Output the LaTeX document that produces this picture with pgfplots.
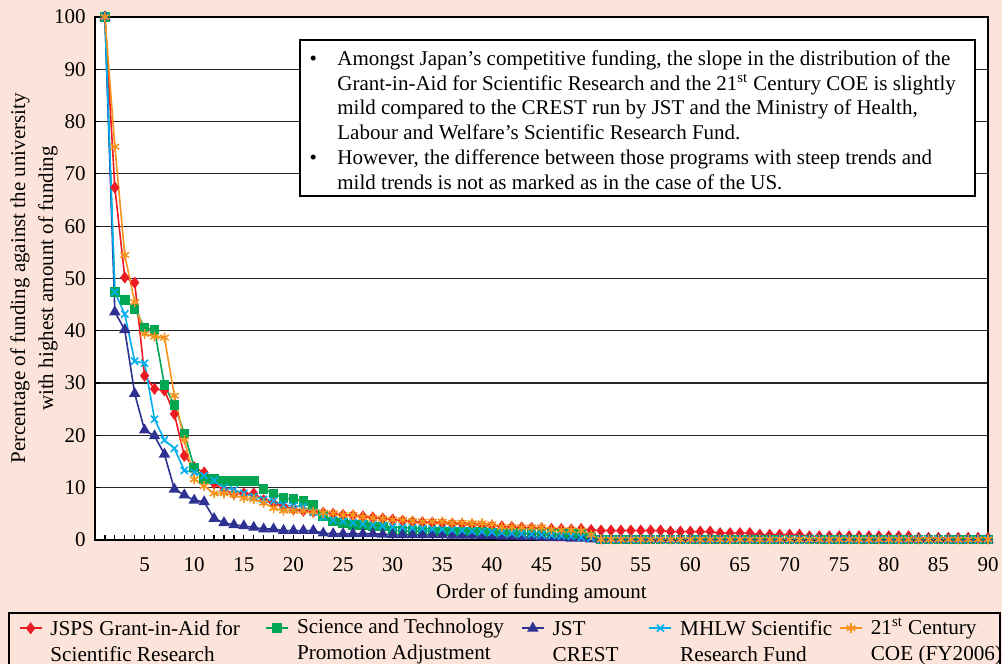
\documentclass[border=0pt]{standalone}
\usepackage{fontspec}
\setmainfont{Liberation Serif}
\usepackage{pgfplots}
\usepackage{pgfplotstable}
\pgfplotsset{compat=1.18}

\definecolor{bgpeach}{HTML}{FCE4DA}
\definecolor{cjsps}{HTML}{ED1C24}
\definecolor{cstpa}{HTML}{00A651}
\definecolor{ccrest}{HTML}{2E3192}
\definecolor{cmhlw}{HTML}{00AEEF}
\definecolor{ccoe}{HTML}{F7941D}

% share of funding vs. top university, by rank (1 = top)
\pgfplotstableread{
x jsps stpa crest mhlw coe
1 100 100 100 100 100
2 67.4 47.4 43.6 47.4 75.2
3 50.2 45.9 40.2 43.2 54.5
4 49.2 44.2 28.0 34.2 45.5
5 31.4 40.6 21.0 33.8 39.4
6 28.9 40.2 19.9 23.1 38.9
7 28.6 29.6 16.4 19.1 38.7
8 24.1 25.8 9.7 17.5 27.6
9 16.1 20.4 8.6 13.3 19.1
10 13.9 13.9 7.6 12.9 11.6
11 12.9 11.7 7.3 12.3 10.3
12 10.8 11.7 4.1 11.4 8.9
13 9.5 11.3 3.3 10.0 8.9
14 8.9 11.3 2.9 9.6 8.6
15 8.9 11.3 2.7 8.9 8.0
16 8.9 11.3 2.4 8.3 7.8
17 7.6 9.7 2.1 7.8 7.1
18 7.0 8.9 2.1 7.5 6.1
19 6.5 8.0 1.8 6.7 5.6
20 5.9 7.8 1.8 6.5 5.6
21 5.6 7.5 1.8 6.4 5.6
22 5.4 6.7 1.8 5.3 5.4
23 5.2 4.6 1.3 4.4 5.2
24 5.0 3.5 1.2 3.8 5.1
25 4.8 3.3 1.2 3.6 4.8
26 4.7 2.9 1.2 3.3 4.8
27 4.5 2.9 1.2 3.1 4.4
28 4.3 2.6 1.2 2.9 4.2
29 4.1 2.6 1.1 2.7 4.1
30 3.9 1.8 1.0 2.5 3.9
31 3.7 1.8 1.0 2.4 3.8
32 3.5 1.7 1.0 2.3 3.6
33 3.4 1.7 1.0 2.2 3.5
34 3.3 1.6 1.0 2.1 3.5
35 3.2 1.6 1.0 2.0 3.5
36 3.1 1.6 0.9 1.9 3.3
37 3.0 1.5 0.9 1.8 3.3
38 2.9 1.5 0.9 1.7 3.2
39 2.8 1.5 0.8 1.6 3.2
40 2.7 1.4 0.8 1.5 3.0
41 2.6 1.4 0.7 1.4 2.5
42 2.5 1.4 0.7 1.3 2.5
43 2.4 1.3 0.6 1.2 2.4
44 2.3 1.3 0.6 1.1 2.4
45 2.2 1.3 0.5 1.0 2.4
46 2.1 1.2 0.4 0.9 2.0
47 2.1 1.2 0.4 0.8 1.9
48 2.0 1.2 0.3 0.7 1.9
49 2.1 1.1 0.3 0.5 1.8
50 1.9 0.6 0.2 0.4 1.0
51 1.8 0.1 0.1 0.1 0.1
52 1.8 0.1 0.1 0.1 0.1
53 1.8 0.1 0.1 0.1 0.1
54 1.8 0.1 0.1 0.1 0.1
55 1.8 0.1 0.1 0.1 0.1
56 1.8 0.1 0.1 0.1 0.1
57 1.8 0.1 0.1 0.1 0.1
58 1.6 0.1 0.1 0.1 0.1
59 1.6 0.1 0.1 0.1 0.1
60 1.6 0.1 0.1 0.1 0.1
61 1.6 0.1 0.1 0.1 0.1
62 1.6 0.1 0.1 0.1 0.1
63 1.3 0.1 0.1 0.1 0.1
64 1.3 0.1 0.1 0.1 0.1
65 1.3 0.1 0.1 0.1 0.1
66 1.3 0.1 0.1 0.1 0.1
67 1.0 0.1 0.1 0.1 0.1
68 1.0 0.1 0.1 0.1 0.1
69 1.0 0.1 0.1 0.1 0.1
70 1.0 0.1 0.1 0.1 0.1
71 1.0 0.1 0.1 0.1 0.1
72 0.7 0.1 0.1 0.1 0.1
73 0.7 0.1 0.1 0.1 0.1
74 0.7 0.1 0.1 0.1 0.1
75 0.7 0.1 0.1 0.1 0.1
76 0.7 0.1 0.1 0.1 0.1
77 0.7 0.1 0.1 0.1 0.1
78 0.7 0.1 0.1 0.1 0.1
79 0.7 0.1 0.1 0.1 0.1
80 0.7 0.1 0.1 0.1 0.1
81 0.7 0.1 0.1 0.1 0.1
82 0.7 0.1 0.1 0.1 0.1
83 0.4 0.1 0.1 0.1 0.1
84 0.4 0.1 0.1 0.1 0.1
85 0.4 0.1 0.1 0.1 0.1
86 0.4 0.1 0.1 0.1 0.1
87 0.4 0.1 0.1 0.1 0.1
88 0.4 0.1 0.1 0.1 0.1
89 0.4 0.1 0.1 0.1 0.1
90 0.4 0.1 0.1 0.1 0.1
}\fundtab

\begin{document}
\begin{tikzpicture}
\fill[bgpeach] (0,0) rectangle (501pt,332pt);
\useasboundingbox (0,0) rectangle (501pt,332pt);
\begin{axis}[
  at={(47.5pt,62pt)}, anchor=south west,
  scale only axis, width=446.5pt, height=261.5pt,
  xmin=0, xmax=90, ymin=0, ymax=100,
  xtick={5,10,...,90}, minor xtick={1,...,89},
  ytick={0,10,...,100},
  xtick pos=bottom, ytick pos=left,
  tick align=inside,
  major tick length=2.5pt, minor tick length=2.5pt,
  tick style={black, line width=0.6pt},
  ymajorgrids,
  major grid style={black!85, line width=0.6pt},
  axis line style={black, line width=0.8pt},
  axis background/.style={fill=white},
  /pgf/number format/assume math mode=true,
  ticklabel style={font=\fontsize{10.5}{12}\selectfont},
  xticklabel style={anchor=base, yshift=-16pt},
  yticklabel style={xshift=-1.2pt},
  xlabel={Order of funding amount},
  xlabel style={at={(axis description cs:0.5,0)}, anchor=base, yshift=-29.5pt,
    font=\fontsize{10.5}{12}\selectfont},
  ylabel={Percentage of funding against the university\\with highest amount of funding},
  ylabel style={at={(axis description cs:-0.0683,0.5)}, anchor=center,
    align=center, font=\fontsize{10.5}{14}\selectfont},
  every axis plot/.append style={line width=0.8pt},
  legend image code/.code={\draw[mark repeat=2, mark phase=2, #1]
    plot coordinates {(0pt,6.5pt) (5.5pt,6.5pt) (11pt,6.5pt)};},
  legend columns=5,
  legend style={at={(-0.0974,-0.1377)}, anchor=north west,
    draw=black, line width=0.8pt, fill=none,
    inner xsep=5pt, inner ysep=2.5pt,
    nodes={inner sep=0pt, anchor=center, text depth=},
    font=\fontsize{10.6}{13}\selectfont,
    column sep=0pt,
    /tikz/every odd column/.append style={column sep=4pt}},
]
\addplot[cjsps, mark=diamond*, mark size=2.4pt] table[x=x, y=jsps] {\fundtab};
\addlegendentry{\parbox[c]{107.5pt}{JSPS Grant-in-Aid for\\Scientific Research}}
\addplot[cstpa, mark=square*, mark size=2pt] table[x=x, y=stpa] {\fundtab};
\addlegendentry{\parbox[c]{112pt}{Science and Technology\\Promotion Adjustment}}
\addplot[ccrest, mark=triangle*, mark size=2.5pt] table[x=x, y=crest] {\fundtab};
\addlegendentry{\parbox[c]{48pt}{JST\\CREST}}
\addplot[cmhlw, mark=x, mark size=2.5pt] table[x=x, y=mhlw] {\fundtab};
\addlegendentry{\parbox[c]{79.5pt}{MHLW Scientific\\Research Fund}}
\addplot[ccoe, mark=asterisk, mark size=2.5pt] table[x=x, y=coe] {\fundtab};
\addlegendentry{\parbox[c]{59.5pt}{\mbox{21\textsuperscript{st} Century}\\\mbox{COE (FY2006)}}}
\end{axis}
% comment box
\fill[white] (150pt,234pt) rectangle (487.5pt,312pt);
\draw[black, line width=0.8pt] (150pt,234pt) rectangle (487.5pt,312pt);
\node[anchor=north west, inner sep=0pt, font=\fontsize{10.5}{12.4}\selectfont]
  at (154.6pt,308.2pt) {%
  \begin{tabular}{@{}l@{}l@{}}
  \makebox[13.9pt][l]{\textbullet} & Amongst Japan's competitive funding, the slope in the distribution of the\\
   & Grant-in-Aid for Scientific Research and the 21\textsuperscript{st} Century COE is slightly\\
   & mild compared to the CREST run by JST and the Ministry of Health,\\
   & Labour and Welfare's Scientific Research Fund.\\
  \makebox[13.9pt][l]{\textbullet} & However, the difference between those programs with steep trends and\\
   & mild trends is not as marked as in the case of the US.
  \end{tabular}};
\end{tikzpicture}
\end{document}
